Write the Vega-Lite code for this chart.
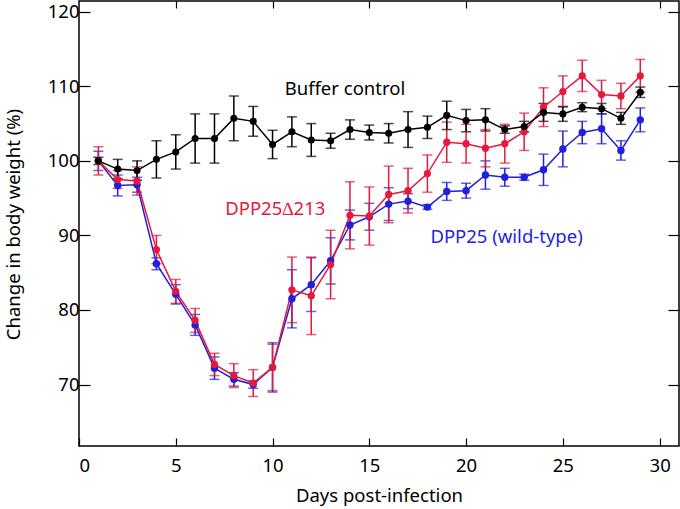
{
  "$schema": "https://vega.github.io/schema/vega-lite/v6.json",
  "width": 600,
  "height": 445,
  "autosize": {"type": "none"},
  "padding": {"left": 79, "top": 1, "right": 1, "bottom": 63},
  "background": "white",
  "config": {
    "view": {"stroke": "black", "strokeWidth": 1.5},
    "font": "Noto Sans",
    "axis": {"labelFont": "Noto Sans", "titleFont": "Noto Sans", "labelColor": "black", "titleColor": "black", "tickColor": "black", "grid": false, "domain": false, "titleFontWeight": "normal", "labelFontSize": 18.5, "titleFontSize": 18.5, "tickWidth": 1.2}
  },
  "datasets": {
    "weights": [
      {"series": "DPP25", "day": 1, "mean": 100.0, "err": 1.3},
      {"series": "DPP25", "day": 2, "mean": 96.7, "err": 1.4},
      {"series": "DPP25", "day": 3, "mean": 96.8, "err": 1.0},
      {"series": "DPP25", "day": 4, "mean": 86.2, "err": 0.8},
      {"series": "DPP25", "day": 5, "mean": 82.1, "err": 1.3},
      {"series": "DPP25", "day": 6, "mean": 78.0, "err": 1.4},
      {"series": "DPP25", "day": 7, "mean": 72.2, "err": 1.5},
      {"series": "DPP25", "day": 8, "mean": 70.7, "err": 0.9},
      {"series": "DPP25", "day": 9, "mean": 70.0, "err": 0.5},
      {"series": "DPP25", "day": 10, "mean": 72.3, "err": 3.3},
      {"series": "DPP25", "day": 11, "mean": 81.5, "err": 3.9},
      {"series": "DPP25", "day": 12, "mean": 83.4, "err": 3.6},
      {"series": "DPP25", "day": 13, "mean": 86.6, "err": 3.1},
      {"series": "DPP25", "day": 14, "mean": 91.4, "err": 2.0},
      {"series": "DPP25", "day": 15, "mean": 92.5, "err": 1.8},
      {"series": "DPP25", "day": 16, "mean": 94.2, "err": 2.2},
      {"series": "DPP25", "day": 17, "mean": 94.6, "err": 1.0},
      {"series": "DPP25", "day": 18, "mean": 93.8, "err": 0.3},
      {"series": "DPP25", "day": 19, "mean": 95.9, "err": 1.2},
      {"series": "DPP25", "day": 20, "mean": 96.0, "err": 1.0},
      {"series": "DPP25", "day": 21, "mean": 98.1, "err": 1.9},
      {"series": "DPP25", "day": 22, "mean": 97.8, "err": 1.2},
      {"series": "DPP25", "day": 23, "mean": 97.8, "err": 0.4},
      {"series": "DPP25", "day": 24, "mean": 98.8, "err": 2.1},
      {"series": "DPP25", "day": 25, "mean": 101.6, "err": 2.4},
      {"series": "DPP25", "day": 26, "mean": 103.8, "err": 1.5},
      {"series": "DPP25", "day": 27, "mean": 104.3, "err": 2.0},
      {"series": "DPP25", "day": 28, "mean": 101.4, "err": 1.3},
      {"series": "DPP25", "day": 29, "mean": 105.5, "err": 1.6},
      {"series": "DPP25d213", "day": 1, "mean": 100.0, "err": 1.9},
      {"series": "DPP25d213", "day": 2, "mean": 97.5, "err": 1.2},
      {"series": "DPP25d213", "day": 3, "mean": 97.3, "err": 1.9},
      {"series": "DPP25d213", "day": 4, "mean": 88.1, "err": 1.9},
      {"series": "DPP25d213", "day": 5, "mean": 82.5, "err": 1.6},
      {"series": "DPP25d213", "day": 6, "mean": 78.6, "err": 1.6},
      {"series": "DPP25d213", "day": 7, "mean": 72.7, "err": 1.5},
      {"series": "DPP25d213", "day": 8, "mean": 71.2, "err": 1.6},
      {"series": "DPP25d213", "day": 9, "mean": 70.2, "err": 1.8},
      {"series": "DPP25d213", "day": 10, "mean": 72.3, "err": 3.1},
      {"series": "DPP25d213", "day": 11, "mean": 82.7, "err": 4.4},
      {"series": "DPP25d213", "day": 12, "mean": 81.9, "err": 5.2},
      {"series": "DPP25d213", "day": 13, "mean": 86.1, "err": 4.6},
      {"series": "DPP25d213", "day": 14, "mean": 92.7, "err": 4.5},
      {"series": "DPP25d213", "day": 15, "mean": 92.6, "err": 3.9},
      {"series": "DPP25d213", "day": 16, "mean": 95.5, "err": 3.8},
      {"series": "DPP25d213", "day": 17, "mean": 96.0, "err": 3.0},
      {"series": "DPP25d213", "day": 18, "mean": 98.3, "err": 2.5},
      {"series": "DPP25d213", "day": 19, "mean": 102.5, "err": 2.7},
      {"series": "DPP25d213", "day": 20, "mean": 102.3, "err": 2.6},
      {"series": "DPP25d213", "day": 21, "mean": 101.7, "err": 2.5},
      {"series": "DPP25d213", "day": 22, "mean": 102.3, "err": 2.6},
      {"series": "DPP25d213", "day": 23, "mean": 103.9, "err": 2.5},
      {"series": "DPP25d213", "day": 24, "mean": 107.2, "err": 2.6},
      {"series": "DPP25d213", "day": 25, "mean": 109.3, "err": 2.1},
      {"series": "DPP25d213", "day": 26, "mean": 111.4, "err": 2.1},
      {"series": "DPP25d213", "day": 27, "mean": 108.9, "err": 1.9},
      {"series": "DPP25d213", "day": 28, "mean": 108.7, "err": 1.7},
      {"series": "DPP25d213", "day": 29, "mean": 111.4, "err": 2.2},
      {"series": "Buffer", "day": 1, "mean": 100.0, "err": 0.5},
      {"series": "Buffer", "day": 2, "mean": 98.9, "err": 1.3},
      {"series": "Buffer", "day": 3, "mean": 98.7, "err": 1.3},
      {"series": "Buffer", "day": 4, "mean": 100.2, "err": 2.5},
      {"series": "Buffer", "day": 5, "mean": 101.2, "err": 2.3},
      {"series": "Buffer", "day": 6, "mean": 103.0, "err": 3.3},
      {"series": "Buffer", "day": 7, "mean": 103.0, "err": 3.3},
      {"series": "Buffer", "day": 8, "mean": 105.7, "err": 3.0},
      {"series": "Buffer", "day": 9, "mean": 105.3, "err": 2.0},
      {"series": "Buffer", "day": 10, "mean": 102.2, "err": 1.9},
      {"series": "Buffer", "day": 11, "mean": 103.9, "err": 2.0},
      {"series": "Buffer", "day": 12, "mean": 102.8, "err": 2.2},
      {"series": "Buffer", "day": 13, "mean": 102.7, "err": 1.0},
      {"series": "Buffer", "day": 14, "mean": 104.2, "err": 1.3},
      {"series": "Buffer", "day": 15, "mean": 103.8, "err": 1.0},
      {"series": "Buffer", "day": 16, "mean": 103.7, "err": 1.3},
      {"series": "Buffer", "day": 17, "mean": 104.2, "err": 2.4},
      {"series": "Buffer", "day": 18, "mean": 104.5, "err": 1.5},
      {"series": "Buffer", "day": 19, "mean": 106.1, "err": 1.9},
      {"series": "Buffer", "day": 20, "mean": 105.4, "err": 1.5},
      {"series": "Buffer", "day": 21, "mean": 105.5, "err": 1.5},
      {"series": "Buffer", "day": 22, "mean": 104.2, "err": 0.5},
      {"series": "Buffer", "day": 23, "mean": 104.6, "err": 0.7},
      {"series": "Buffer", "day": 24, "mean": 106.5, "err": 1.2},
      {"series": "Buffer", "day": 25, "mean": 106.3, "err": 1.0},
      {"series": "Buffer", "day": 26, "mean": 107.2, "err": 0.6},
      {"series": "Buffer", "day": 27, "mean": 107.0, "err": 0.7},
      {"series": "Buffer", "day": 28, "mean": 105.7, "err": 0.8},
      {"series": "Buffer", "day": 29, "mean": 109.2, "err": 0.7}
    ],
    "labels": [
      {"series": "Buffer", "label": "Buffer control", "lx": 13.74, "ly": 109.6},
      {"series": "DPP25d213", "label": "DPP25∆213", "lx": 10.14, "ly": 93.6},
      {"series": "DPP25", "label": "DPP25 (wild-type)", "lx": 22.09, "ly": 89.75}
    ]
  },
  "resolve": {"axis": {"x": "independent", "y": "independent"}},
  "layer": [
    {
      "data": {"name": "weights"},
      "mark": {"type": "errorbar", "ticks": true, "size": 10, "thickness": 1.5},
      "encoding": {
        "x": {"field": "day", "type": "quantitative", "scale": {"domain": [0, 31], "nice": false, "zero": false},
              "axis": {"orient": "bottom", "values": [0, 5, 10, 15, 20, 25, 30], "tickSize": -8, "labelPadding": 18, "title": "Days post-infection", "titlePadding": 12}},
        "y": {"field": "mean", "type": "quantitative", "scale": {"domain": [61.76, 121.44], "nice": false, "zero": false},
              "axis": {"orient": "left", "values": [70, 80, 90, 100, 110, 120], "tickSize": -11, "labelPadding": 11, "title": "Change in body weight (%)", "titleX": -66, "titleY": 223, "titleBaseline": "middle", "titleAlign": "center", "titleAngle": 270}},
        "yError": {"field": "err"},
        "color": {"field": "series", "type": "nominal", "scale": {"domain": ["DPP25", "DPP25d213", "Buffer"], "range": ["#1f1fdc", "#e6193c", "#000000"]}, "legend": null}
      }
    },
    {
      "data": {"name": "weights"},
      "mark": {"type": "line", "strokeWidth": 1.5},
      "encoding": {
        "x": {"field": "day", "type": "quantitative", "axis": null},
        "y": {"field": "mean", "type": "quantitative", "axis": null},
        "color": {"field": "series", "type": "nominal", "legend": null}
      }
    },
    {
      "data": {"name": "weights"},
      "mark": {"type": "point", "filled": true, "opacity": 1},
      "encoding": {
        "x": {"field": "day", "type": "quantitative", "axis": null},
        "y": {"field": "mean", "type": "quantitative", "axis": null},
        "color": {"field": "series", "type": "nominal", "legend": null},
        "size": {"field": "series", "type": "ordinal", "scale": {"domain": ["DPP25", "DPP25d213", "Buffer"], "range": [55, 50, 34]}, "legend": null}
      }
    },
    {
      "data": {"name": "labels"},
      "mark": {"type": "text", "fontSize": 18.5, "align": "center", "baseline": "middle", "font": "Noto Sans"},
      "encoding": {
        "x": {"field": "lx", "type": "quantitative",
              "axis": {"orient": "top", "values": [5, 10, 15, 20, 25, 30], "tickSize": -7, "labels": false, "title": null}},
        "y": {"field": "ly", "type": "quantitative",
              "axis": {"orient": "right", "values": [70, 80, 90, 100, 110, 120], "tickSize": -11, "labels": false, "title": null}},
        "text": {"field": "label"},
        "color": {"field": "series", "type": "nominal", "scale": {"domain": ["DPP25", "DPP25d213", "Buffer"], "range": ["#3a2fc8", "#e0204a", "#000000"]}, "legend": null}
      }
    }
  ]
}
